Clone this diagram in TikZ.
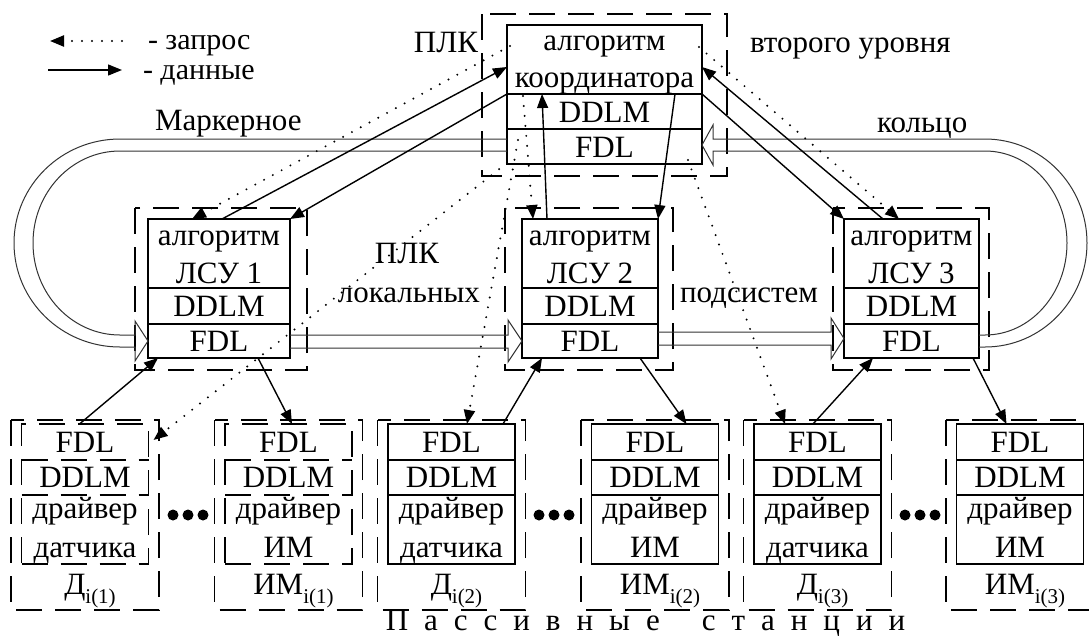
\documentclass[tikz,border=0pt]{standalone}
\usepackage{fontspec}
\setmainfont{Liberation Serif}
\usetikzlibrary{arrows.meta,calc}
\newcommand\lsp{\hspace{16pt}}
\begin{document}
\begin{tikzpicture}[x=1pt,y=-1pt,
  every node/.style={inner sep=0pt,outer sep=0pt,font=\fontsize{31}{36}\selectfont},
  lbl/.style={anchor=base},
  solidbox/.style={draw,line width=1.6pt},
  dbox/.style={draw,line width=1.6pt,dash pattern=on 26pt off 13pt},
  data/.style={line width=1.4pt,-{Triangle[length=14pt,width=11pt]}},
  req/.style={line width=2.2pt,line cap=round,dash pattern=on 0pt off 10pt,-{Triangle[length=14pt,width=11pt]}},
  ring/.style={line width=1pt,black!80}]
\clip (0,0) rectangle (1089,641);

% legend
\coordinate (lq1) at (122,41); \coordinate (lq2) at (50,41);
\coordinate (ld1) at (48,70);  \coordinate (ld2) at (122,70);
\draw[req] (lq1) -- (lq2);
\draw[data] (ld1) -- (ld2);
\node[lbl,anchor=base west,font=\fontsize{30}{34}\selectfont] (legq) at (148,49) {- запрос};
\node[lbl,anchor=base west,font=\fontsize{30}{34}\selectfont] (legd) at (143,79) {- данные};

% labels
\node[lbl,anchor=base east] (plk1) at (478,52) {ПЛК};
\node[lbl,anchor=base west] (vtor) at (750,52) {второго уровня};
\node[lbl,anchor=base west] (mark) at (155,130) {Маркерное};
\node[lbl,anchor=base west] (kolc) at (877,132) {кольцо};
\node[lbl] (plk2) at (407,263) {ПЛК};
\node[lbl,anchor=base east] (lok) at (480,302) {локальных};
\node[lbl,anchor=base west] (pods) at (680,302) {подсистем};

% coordinator
\draw[dbox] (482,14) rectangle (727,176);
\node[solidbox,minimum width=195pt,minimum height=139pt] (coord) at (604.5,94.5) {};
\draw[line width=1.6pt] (507,94) -- (702,94) (507,129) -- (702,129);
\node[lbl] (c1) at (604.5,50) {алгоритм};
\node[lbl] (c2) at (604.5,87) {координатора};
\node[lbl] (c3) at (604.5,122) {DDLM};
\node[lbl] (c4) at (604.5,157) {FDL};

% LSU boxes
\foreach \n/\cx/\w/\dl/\dr in {1/219/142/135/307, 2/590/136/505/673, 3/911.5/135/833/989}{
  \draw[dbox] (\dl,208) rectangle (\dr,370);
  \node[solidbox,minimum width=\w pt,minimum height=139pt] (lsu\n) at (\cx,288.5) {};
  \draw[line width=1.6pt] ({\cx-\w/2},288) -- ({\cx+\w/2},288) ({\cx-\w/2},324) -- ({\cx+\w/2},324);
  \node[lbl] (la\n) at (\cx,245) {алгоритм};
  \node[lbl] (lb\n) at (\cx,283) {ЛСУ \n};
  \node[lbl] (lc\n) at (\cx,316) {DDLM};
  \node[lbl] (ld\n) at (\cx,351) {FDL};
}

% passive stations
\foreach \n/\cx/\sty/\ln/\lb/\k in {1/85/dbox/датчика/Д/1, 2/288.5/dbox/ИМ/ИМ/1, 3/451.5/solidbox/датчика/Д/2, 4/655/solidbox/ИМ/ИМ/2, 5/817.5/solidbox/датчика/Д/3, 6/1020/solidbox/ИМ/ИМ/3}{
  \draw[dbox] ({\cx-74},420) rectangle ({\cx+74},610);
  \node[\sty,minimum width=127pt,minimum height=140pt] (st\n) at (\cx,494) {};
  \draw[\sty] ({\cx-63.5},460) -- ({\cx+63.5},460) ({\cx-63.5},495) -- ({\cx+63.5},495);
  \node[lbl] (sa\n) at (\cx,452) {FDL};
  \node[lbl] (sb\n) at (\cx,487) {DDLM};
  \node[lbl] (sc\n) at (\cx,518) {драйвер};
  \node[lbl] (sd\n) at (\cx,557) {\ln};
  \node[lbl] (se\n) at ({\cx+5},594) {\lb\raisebox{-9pt}{\fontsize{21}{21}\selectfont i(\k)}};
}
\foreach \x in {173,188,203, 539,554,569, 905,920,935}{
  \fill (\x,515) circle[radius=5.5pt];
}
\node[lbl] (pass) at (645.5,630) {П\lsp а\lsp с\lsp с\lsp и\lsp в\lsp н\lsp ы\lsp е\hspace{42pt}с\lsp т\lsp а\lsp н\lsp ц\lsp и\lsp и};

% token ring
\draw[ring] (coord.west |- 0,139) -- (120,139)
  arc[start angle=270,end angle=90,x radius=106,y radius=104]
  -- (135,347) -- (135,361) -- (lsu1.west |- 0,341) -- (135,321) -- (135,335) -- (120,335)
  arc[start angle=90,end angle=270,x radius=87,y radius=92]
  -- (coord.west |- 0,151);
\draw[ring] (lsu1.east |- 0,335) -- (508,335) -- (508,320) -- (lsu2.west |- 0,341) -- (508,362) -- (508,348) -- (lsu1.east |- 0,348);
\draw[ring] (lsu2.east |- 0,332) -- (831,332) -- (831,318) -- (lsu3.west |- 0,338.5) -- (831,359) -- (831,345) -- (lsu2.east |- 0,345);
\draw[ring] (lsu3.east |- 0,335) -- (985,335)
  arc[start angle=90,end angle=-90,x radius=82,y radius=92]
  -- (713,151) -- (713,165) -- (coord.east |- 0,145) -- (713,125) -- (713,139) -- (985,139)
  arc[start angle=-90,end angle=90,x radius=102,y radius=104]
  -- (lsu3.east |- 0,347);

% data arrows
\draw[data] ($(lsu1.north west)+(74,0)$) -- ($(coord.north west)+(0,42)$);
\draw[data] ($(coord.north west)+(0,69)$) -- (lsu1.north east);
\draw[data] ($(lsu2.north west)+(25,0)$) -- ($(coord.north west)+(35,69)$);
\draw[data] ($(coord.north west)+(168,69)$) -- (lsu2.north east);
\draw[data] ($(lsu3.north west)+(39,0)$) -- ($(coord.north east)+(0,42)$);
\draw[data] ($(coord.north east)+(0,69)$) -- (lsu3.north west);
\draw[data] ($(st1.north west)+(58,0)$) -- ($(lsu1.south west)+(10,0)$);
\draw[data] ($(lsu1.south west)+(110,0)$) -- ($(st2.north west)+(67,0)$);
\draw[data] ($(st3.north west)+(115,0)$) -- ($(lsu2.south west)+(20,0)$);
\draw[data] ($(lsu2.south west)+(118,0)$) -- ($(st4.north west)+(95,0)$);
\draw[data] ($(st5.north west)+(59,0)$) -- ($(lsu3.south west)+(29,0)$);
\draw[data] ($(lsu3.south west)+(129,0)$) -- ($(st6.north west)+(50,0)$);

% request arrows
\draw[req] ($(coord.north west)+(3,21)$) -- ($(lsu1.north west)+(44,0)$);
\draw[req] ($(coord.north west)+(16,71)$) -- ($(lsu2.north west)+(11,0)$);
\draw[req] ($(coord.north east)+(-3,22)$) -- ($(lsu3.north west)+(55,0)$);
\draw[req] ($(coord.south west)+(0,-1)$) -- ($(st1.north east)+(5,16)$);
\draw[req] ($(coord.north west)+(11,115)$) -- ($(st3.north west)+(79,0)$);
\draw[req] ($(coord.south east)+(-14,-4)$) -- ($(st5.north west)+(31,0)$);
\end{tikzpicture}
\end{document}
